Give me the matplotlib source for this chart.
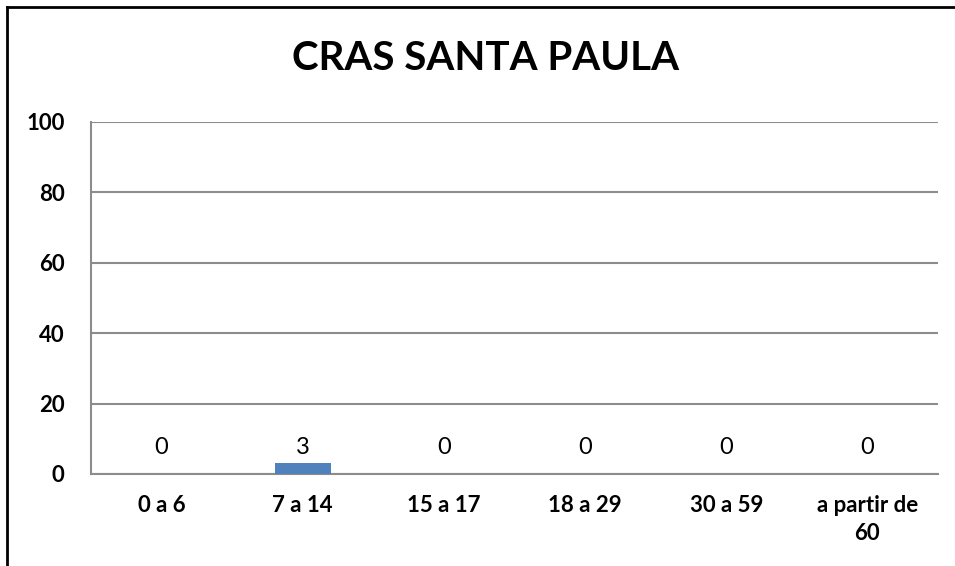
import matplotlib.pyplot as plt
import numpy as np
from matplotlib.lines import Line2D

plt.rcParams["font.family"] = ["Lato", "DejaVu Sans"]

categories = ["0 a 6", "7 a 14", "15 a 17", "18 a 29", "30 a 59", "a partir de\n60"]
values = [0, 3, 0, 0, 0, 0]
y_ticks = [0, 20, 40, 60, 80, 100]
title = "CRAS SANTA PAULA"

fig = plt.figure(figsize=(9.55, 5.66), dpi=100)
ax = fig.add_axes([91 / 955, 1 - 474 / 566, (938 - 91) / 955, (474 - 122) / 566])

x = np.arange(len(categories))
bars = ax.bar(x, values, width=0.4, color="#4f81bd", zorder=3)

# data labels sit on one line just above the baseline, like the original
for xi, v in zip(x, values):
    ax.annotate(str(v), (xi, 0), xytext=(0, 19), textcoords="offset points",
                ha="center", va="center", fontsize=17)

ax.set_xlim(-0.5, len(categories) - 0.5)
ax.set_ylim(0, 100)
ax.set_yticks(y_ticks)
ax.set_yticklabels([str(t) for t in y_ticks], fontsize=16, fontweight="bold")
ax.set_xticks(x)
ax.set_xticklabels(categories, fontsize=16, fontweight="bold", va="top", linespacing=1.45)
ax.tick_params(axis="both", length=0)
ax.tick_params(axis="y", pad=19)
ax.tick_params(axis="x", pad=15)

ax.yaxis.grid(True, color="#8c8c8c", linewidth=1.5, zorder=0)
for side in ["top", "right"]:
    ax.spines[side].set_visible(False)
for side in ["left", "bottom"]:
    ax.spines[side].set_color("#8c8c8c")
    ax.spines[side].set_linewidth(1.5)

fig.text(486 / 955, 1 - 59 / 566, title, ha="center", va="center",
         fontsize=29, fontweight="bold")

# outer chart border (only top and left are visible in the crop)
fig.add_artist(Line2D([7 / 955, 7 / 955], [0, 1 - 7 / 566], color="black", linewidth=2))
fig.add_artist(Line2D([7 / 955, 1], [1 - 7 / 566, 1 - 7 / 566], color="black", linewidth=2))

fig.savefig("out.png", dpi=100)
